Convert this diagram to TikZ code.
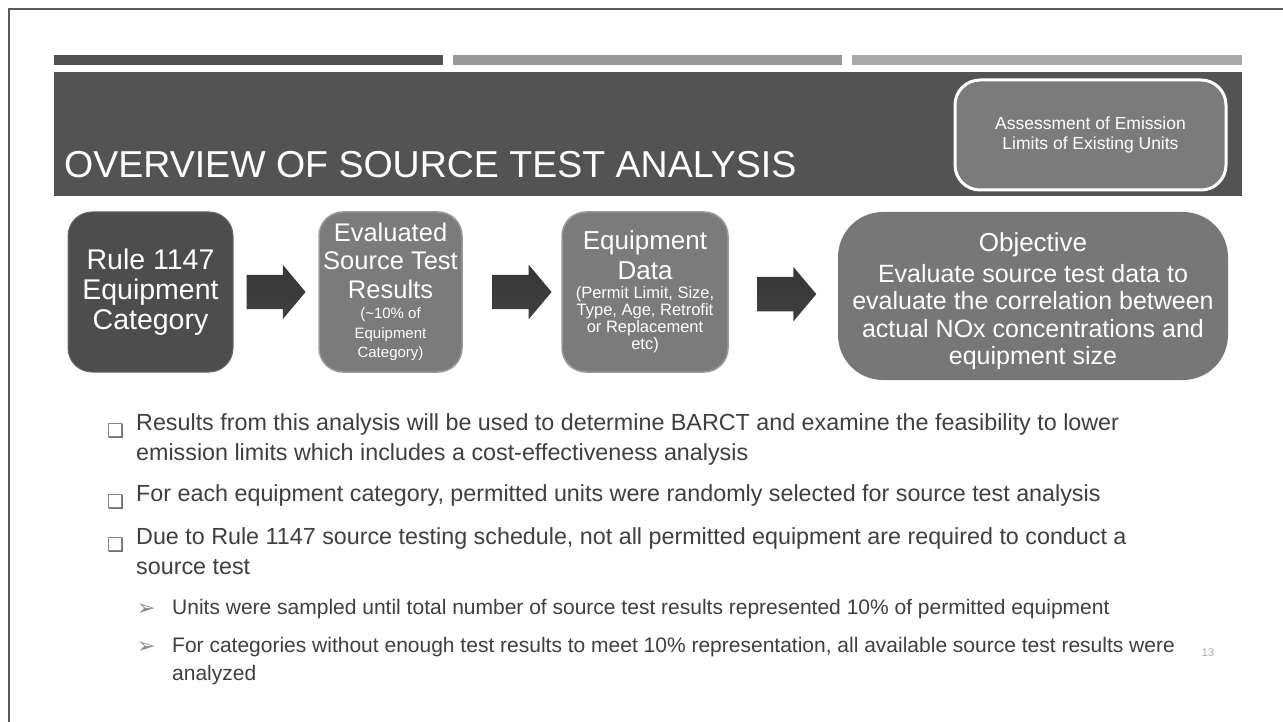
\documentclass[tikz,border=0pt]{standalone}
\usepackage{fontspec}
\setmainfont{Liberation Sans}
\newfontfamily\symfont{DejaVu Sans}
\usepackage{tikz}
\usetikzlibrary{positioning,shapes.arrows,calc}

\definecolor{framegray}{HTML}{5A5A5A}
\definecolor{barA}{HTML}{505050}
\definecolor{barB}{HTML}{999999}
\definecolor{barC}{HTML}{A9A9A9}
\definecolor{bandgray}{HTML}{535353}
\definecolor{darkfill}{HTML}{4D4D4D}
\definecolor{midfill}{HTML}{7B7B7B}
\definecolor{midedge}{HTML}{9A9A9A}
\definecolor{objfill}{HTML}{777777}
\definecolor{bodytext}{HTML}{3F3F3F}
\definecolor{bulgray}{HTML}{8C8C8C}

\newcommand\flowsmall{\fontsize{15}{18}\selectfont}
\newcommand\flowsmaller{\fontsize{16.5}{17}\selectfont}

\begin{document}
\begin{tikzpicture}[x=1pt,y=-1pt,
    flowbox/.style={rounded corners=24pt, text=white, align=center, inner sep=0pt},
    darkbox/.style={flowbox, fill=darkfill, draw=darkfill!85!white, line width=1pt},
    midbox/.style={flowbox, fill=midfill, draw=midedge, line width=1.5pt},
    blockarrow/.style={single arrow, draw=none, top color=barA!115!white, bottom color=barA!80!black,
        minimum height=59pt, inner xsep=0pt, inner ysep=17pt, single arrow head extend=10pt,
        single arrow tip angle=100, xshift=-7pt},
    bodyline/.style={anchor=base west, inner sep=0pt, text=bodytext, font=\fontsize{23.3}{28}\selectfont},
    subline/.style={anchor=base west, inner sep=0pt, text=bodytext, font=\fontsize{21}{25}\selectfont},
    sqbullet/.style={anchor=base west, inner sep=0pt, text=bodytext!80!white, font=\symfont\fontsize{19}{20}\selectfont},
    arrbullet/.style={anchor=base west, inner sep=0pt, text=bulgray, font=\symfont\fontsize{22}{24}\selectfont}]
    \useasboundingbox (0,0) rectangle (1283,722);
    \fill[white] (0,0) rectangle (1283,722);
    \draw[line width=2.5pt, framegray] (9,722) -- (9,9) -- (1283,9);

    % header
    \fill[barA] (54,55) rectangle (443,65);
    \fill[barB] (453,55) rectangle (842,65);
    \fill[barC] (852,55) rectangle (1242,65);
    \fill[bandgray] (54,72) rectangle (1242,196);
    \node[anchor=base west, inner sep=0pt, text=white, font=\fontsize{37.5}{40}\selectfont] (title) at (64,178) {OVERVIEW OF SOURCE TEST ANALYSIS};
    \node[rounded corners=25pt, fill=midfill, draw=white, line width=3pt, minimum width=271pt, minimum height=110pt,
        text=white, align=center, font=\fontsize{17.5}{20}\selectfont] (assess) at (1090.5,135)
        {Assessment of Emission\\Limits of Existing Units};

    % flow
    \node[darkbox, minimum width=165pt, minimum height=160pt, font=\fontsize{28.5}{30}\selectfont] (rule) at (150.5,292)
        {Rule 1147\\Equipment\\Category};
    \node[midbox, minimum width=143pt, minimum height=160pt, font=\fontsize{25.5}{28.5}\selectfont] (eval) at (390.5,292)
        {Evaluated\\Source Test\\Results\\[-8pt]{\flowsmall (\textasciitilde10\% of}\\[-9pt]
         {\flowsmall Equipment}\\[-9pt]{\flowsmall Category)}};
    \node[midbox, minimum width=166pt, minimum height=160pt, font=\fontsize{26}{30}\selectfont] (equip) at (645,292)
        {Equipment\\Data\\[-11pt]{\flowsmaller (Permit Limit, Size,}\\[-13pt]{\flowsmaller Type, Age, Retrofit}\\[-13pt]
         {\flowsmaller or Replacement}\\[-13pt]{\flowsmaller etc)}};
    \node[flowbox, rounded corners=45pt, fill=objfill, minimum width=390pt, minimum height=168pt,
        font=\fontsize{25}{27.5}\selectfont] (obj) at (1033,296)
        {\mbox{}\\[1.5pt]{\fontsize{26}{27.5}\selectfont Objective}\\[3.5pt]
         Evaluate source test data to\\evaluate the correlation between\\actual NOx concentrations and\\equipment size};

    \node[blockarrow] (arrA) at ($(rule.east)!0.5!(eval.west)$) {};
    \node[blockarrow] (arrB) at ($(eval.east)!0.6!(equip.west)$) {};
    \node[blockarrow] (arrC) at ($(equip.east)!0.53!(obj.west)$) {};

    % bullets
    \node[sqbullet] (q1) at (107,437) {❑};
    \node[bodyline] (b1a) at (136,430) {Results from this analysis will be used to determine BARCT and examine the feasibility to lower};
    \node[bodyline] (b1b) at (136,460) {emission limits which includes a cost-effectiveness analysis};
    \node[sqbullet] (q2) at (107,508) {❑};
    \node[bodyline] (b2) at (136,501) {For each equipment category, permitted units were randomly selected for source test analysis};
    \node[sqbullet] (q3) at (107,551) {❑};
    \node[bodyline] (b3a) at (136,544) {Due to Rule 1147 source testing schedule, not all permitted equipment are required to conduct a};
    \node[bodyline] (b3b) at (136,574) {source test};
    \node[arrbullet] (r1) at (137,615) {➢};
    \node[subline] (s1) at (172,614) {Units were sampled until total number of source test results represented 10\% of permitted equipment};
    \node[arrbullet] (r2) at (137,653) {➢};
    \node[subline] (s2a) at (172,652) {For categories without enough test results to meet 10\% representation, all available source test results were};
    \node[subline] (s2b) at (172,680) {analyzed};
    \node[inner sep=0pt, text=barC, font=\fontsize{11}{12}\selectfont] (page) at (1208,653) {13};
\end{tikzpicture}
\end{document}
